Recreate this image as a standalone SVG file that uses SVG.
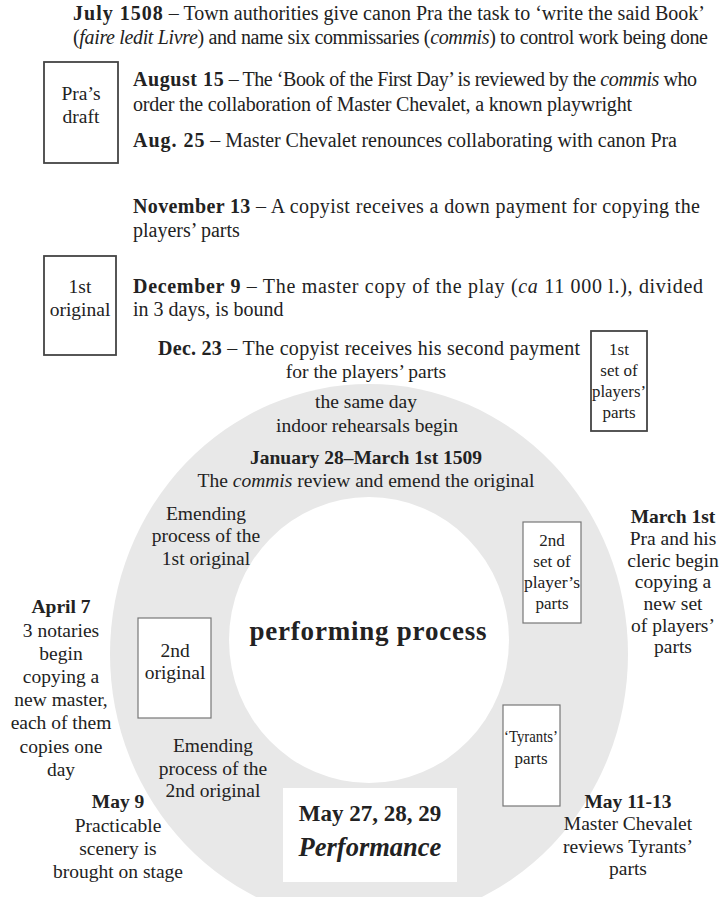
<svg xmlns="http://www.w3.org/2000/svg" width="719" height="897" viewBox="0 0 719 897">
<style>
text{font-family:"Liberation Serif","Times New Roman",serif;fill:#222;font-size:19.5px}
.t{font-size:20px}
.b{font-weight:bold}
.ls{letter-spacing:1px}
.i{font-style:italic}
.c{text-anchor:middle}
.s{font-size:17px}
.box{fill:#fff;stroke:#444;stroke-width:1.8}
.ibox{fill:#fff;stroke:#777;stroke-width:1.2}
</style>
<rect width="719" height="897" fill="#fff"/>
<g id="ring">
<ellipse cx="369" cy="654" rx="259" ry="270" fill="#e8e8e8"/>
<ellipse cx="369" cy="640" rx="140" ry="143" fill="#fff"/>
</g>
<g id="connectors"></g>

<g id="july">
<text class="t" x="73" y="20" textLength="632" lengthAdjust="spacing"><tspan class="b ls">July 1508</tspan> – Town authorities give canon Pra the task to ‘write the said Book’</text>
<text class="t" x="73" y="44" textLength="635" lengthAdjust="spacing">(<tspan class="i">faire ledit Livre</tspan>) and name six commissaries (<tspan class="i">commis</tspan>) to control work being done</text>
</g>

<g id="pras-draft">
<rect class="box" x="44" y="62" width="74" height="101"/>
<text class="c" x="81" y="100">Pra’s</text>
<text class="c" x="81" y="123">draft</text>
</g>

<g id="aug15">
<text class="t" x="133" y="86" textLength="564" lengthAdjust="spacing"><tspan class="b ls">August 15</tspan> – The ‘Book of the First Day’ is reviewed by the <tspan class="i">commis</tspan> who</text>
<text class="t" x="133" y="111" textLength="499" lengthAdjust="spacing">order the collaboration of Master Chevalet, a known playwright</text>
</g>

<g id="aug25">
<text class="t" x="133" y="147" textLength="544" lengthAdjust="spacing"><tspan class="b ls">Aug. 25</tspan> – Master Chevalet renounces collaborating with canon Pra</text>
</g>

<g id="nov13">
<text class="t" x="133" y="213" textLength="567" lengthAdjust="spacing"><tspan class="b">November 13</tspan> – A copyist receives a down payment for copying the</text>
<text class="t" x="133" y="237">players’ parts</text>
</g>

<g id="first-original">
<rect class="box" x="44" y="256" width="72" height="99"/>
<text class="c" x="80" y="293">1st</text>
<text class="c" x="80" y="316">original</text>
</g>

<g id="dec9">
<text class="t" x="133" y="293" textLength="570" lengthAdjust="spacing"><tspan class="b">December 9</tspan>  –  The master copy of the play (<tspan class="i">ca</tspan> 11 000 l.), divided</text>
<text class="t" x="133" y="316">in 3 days, is bound</text>
</g>

<g id="dec23">
<text class="t" x="158" y="355" textLength="422" lengthAdjust="spacing"><tspan class="b">Dec. 23</tspan> – The copyist receives his second payment</text>
<text class="c" x="366" y="378">for the players’ parts</text>
</g>

<g id="first-set">
<rect class="box" x="591" y="331" width="56" height="100"/>
<text class="c s" x="619" y="355">1st</text>
<text class="c s" x="619" y="376">set of</text>
<text class="c s" x="619" y="397" textLength="54" lengthAdjust="spacingAndGlyphs">players’</text>
<text class="c s" x="619" y="418">parts</text>
</g>

<g id="rehearsals">
<text class="c" x="366" y="408">the same day</text>
<text class="c" x="367" y="432">indoor rehearsals begin</text>
</g>

<g id="jan28">
<text class="c b" x="366" y="464">January 28–March 1st 1509</text>
<text class="c" x="366" y="487">The <tspan class="i">commis</tspan> review and emend the original</text>
</g>

<g id="emending1">
<text class="c" x="206" y="520">Emending</text>
<text class="c" x="206" y="542">process of the</text>
<text class="c" x="206" y="565">1st original</text>
</g>

<g id="second-set">
<rect class="ibox" x="523" y="522" width="58" height="101"/>
<text class="c s" x="552" y="546">2nd</text>
<text class="c s" x="552" y="567">set of</text>
<text class="c s" x="552" y="588" textLength="56" lengthAdjust="spacingAndGlyphs">player’s</text>
<text class="c s" x="552" y="609">parts</text>
</g>

<g id="march1">
<text class="c b" x="673" y="523">March 1st</text>
<text class="c" x="673" y="545">Pra and his</text>
<text class="c" x="673" y="567">cleric begin</text>
<text class="c" x="673" y="588">copying a</text>
<text class="c" x="673" y="610">new set</text>
<text class="c" x="673" y="632">of players’</text>
<text class="c" x="673" y="653">parts</text>
</g>

<g id="center">
<text class="c b" x="368" y="640" style="font-size:27px" textLength="237" lengthAdjust="spacing">performing process</text>
</g>

<g id="april7">
<text class="c b" x="61" y="613">April 7</text>
<text class="c" x="61" y="637">3 notaries</text>
<text class="c" x="61" y="660">begin</text>
<text class="c" x="61" y="683">copying a</text>
<text class="c" x="61" y="706">new master,</text>
<text class="c" x="61" y="729">each of them</text>
<text class="c" x="61" y="753">copies one</text>
<text class="c" x="61" y="776">day</text>
</g>

<g id="second-original">
<rect class="ibox" x="138" y="618" width="73" height="100"/>
<text class="c" x="175" y="657">2nd</text>
<text class="c" x="175" y="679">original</text>
</g>

<g id="tyrants">
<rect class="ibox" x="503" y="705" width="57" height="101"/>
<text class="c s" x="531" y="742" textLength="54" lengthAdjust="spacingAndGlyphs">‘Tyrants’</text>
<text class="c s" x="531" y="764">parts</text>
</g>

<g id="emending2">
<text class="c" x="213" y="752">Emending</text>
<text class="c" x="213" y="775">process of the</text>
<text class="c" x="213" y="797">2nd original</text>
</g>

<g id="may9">
<text class="c b" x="118" y="808">May 9</text>
<text class="c" x="118" y="832">Practicable</text>
<text class="c" x="118" y="855">scenery is</text>
<text class="c" x="118" y="878">brought on stage</text>
</g>

<g id="performance">
<rect x="283" y="788" width="174" height="94" fill="#fff"/>
<text class="c b" x="370" y="821" style="font-size:23px">May 27, 28, 29</text>
<text class="c b i" x="370" y="856" style="font-size:26.5px">Performance</text>
</g>

<g id="may11">
<text class="c b" x="628" y="808">May 11-13</text>
<text class="c" x="628" y="830">Master Chevalet</text>
<text class="c" x="628" y="853">reviews Tyrants’</text>
<text class="c" x="628" y="875">parts</text>
</g>
</svg>
